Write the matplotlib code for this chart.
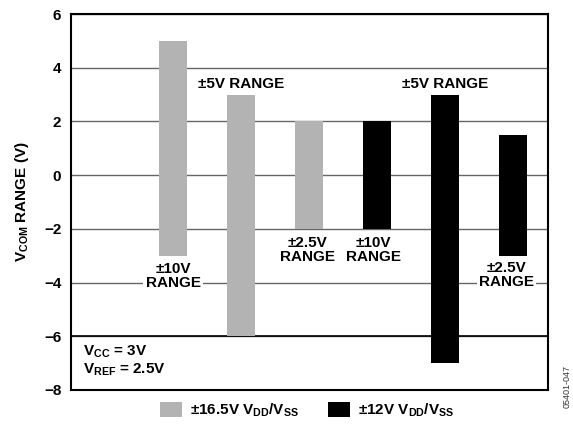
import matplotlib
matplotlib.use("Agg")
import matplotlib.pyplot as plt

# data: each bar is a V_COM range (bottom, top)
positions = [1, 2, 3, 4, 5, 6]
range_low = [-3, -6, -2, -2, -7, -3]
range_high = [5, 3, 2, 2, 3, 1.5]
supply = ["16.5", "16.5", "16.5", "12", "12", "12"]
range_labels = ["±10V\nRANGE", "±5V RANGE", "±2.5V\nRANGE",
                "±10V\nRANGE", "±5V RANGE", "±2.5V\nRANGE"]
# where each label sits (x, y) in data units
label_pos = [(1, -3.74), (2, 3.4), (2.97, -2.8), (3.95, -2.8), (5.0, 3.4), (5.9, -3.7)]
yticks = [-8, -6, -4, -2, 0, 2, 4, 6]

plt.rcParams['font.family'] = ['Liberation Sans', 'DejaVu Sans']
plt.rcParams['font.weight'] = 'bold'
plt.rcParams['mathtext.fontset'] = 'custom'
plt.rcParams['mathtext.rm'] = 'Liberation Sans:bold'
plt.rcParams['mathtext.bf'] = 'Liberation Sans:bold'

FS = 11

fig = plt.figure(figsize=(5.73, 4.25), dpi=100)
ax = fig.add_axes([0.124, 0.0824, 0.832, 0.8846])

colors = {"16.5": "#b3b3b3", "12": "black"}
for s, name in [("16.5", r"±16.5V V$_\mathrm{DD}$/V$_\mathrm{SS}$"),
                ("12", r"±12V V$_\mathrm{DD}$/V$_\mathrm{SS}$")]:
    idx = [i for i in range(len(positions)) if supply[i] == s]
    ax.bar([positions[i] for i in idx],
           [range_high[i] - range_low[i] for i in idx],
           bottom=[range_low[i] for i in idx],
           width=0.41, color=colors[s], label=name, zorder=2)

ax.set_ylim(-8, 6)
ax.set_xlim(-0.5, 6.51)
ax.set_yticks(yticks)
ax.set_xticks([])
ax.tick_params(axis='y', length=0, pad=7, labelsize=FS)
for lab in ax.get_yticklabels():
    lab.set_fontweight('bold')

ax.set_axisbelow(True)
ax.grid(axis='y', color='#666666', lw=1.0, zorder=0)
ax.axhline(-6, color='black', lw=1.2, zorder=1)
for sp in ax.spines.values():
    sp.set_linewidth(1.5)

ax.set_ylabel(r"V$_\mathrm{COM}$ RANGE (V)", fontsize=FS, fontweight='bold', labelpad=9)

for txt, (x, y) in zip(range_labels, label_pos):
    ax.text(x, y, txt, ha='center', va='center', fontsize=FS, fontweight='bold',
            linespacing=1.0, zorder=3,
            bbox=dict(facecolor='white', edgecolor='none', pad=1.5))

ax.text(0.025, 0.125, "V$_\\mathrm{CC}$ = 3V\nV$_\\mathrm{REF}$ = 2.5V", transform=ax.transAxes,
        ha='left', va='top', fontsize=FS, fontweight='bold', linespacing=1.1)

ax.legend(loc='upper center', bbox_to_anchor=(0.495, -0.015), ncol=2, frameon=False,
          fontsize=FS, handlelength=1.45, handleheight=1.2, columnspacing=1.9,
          handletextpad=0.5, borderaxespad=0)

fig.text(0.99, 0.09, "05401-047", rotation=90, ha='center', va='center',
         fontsize=6.5, fontweight='normal', color='#333333')

fig.savefig("out.png", dpi=100)
